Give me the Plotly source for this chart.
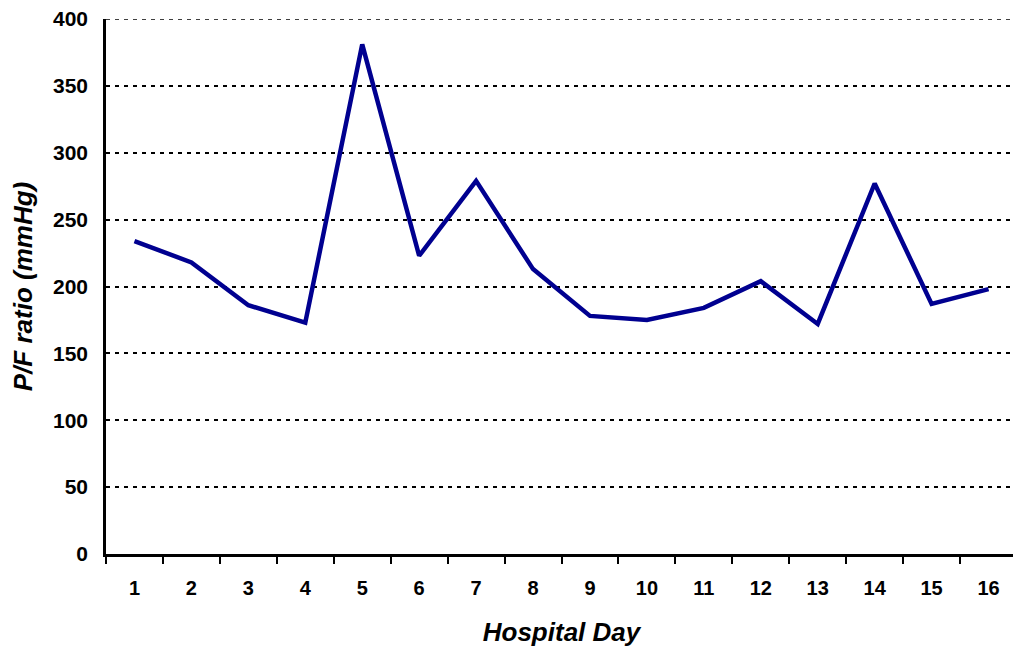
import plotly.graph_objects as go

days = [str(i) for i in range(1, 17)]
pf_ratio = [234, 218, 186, 173, 381, 223, 279, 213, 178, 175, 184, 204, 172, 277, 187, 198]
y_ticks = [0, 50, 100, 150, 200, 250, 300, 350, 400]

fig = go.Figure()
fig.add_trace(go.Scatter(
    x=days, y=pf_ratio, mode="lines",
    line=dict(color="#000090", width=4.5),
    showlegend=False,
))

font_fam = "Liberation Sans, Arial, sans-serif"
fig.update_layout(
    width=1013, height=643,
    margin=dict(l=98, r=4, t=11, b=97),
    paper_bgcolor="white", plot_bgcolor="white",
    font=dict(family=font_fam, color="black"),
)
# dashed top gridline at the maximum of the value axis
fig.add_shape(type="line", xref="paper", yref="y", x0=0, x1=1,
              y0=y_ticks[-1], y1=y_ticks[-1],
              line=dict(color="black", width=1.5, dash="4px,5px"), layer="below")
fig.update_xaxes(
    type="category", tickson="boundaries", range=[-0.5, 15.5],
    ticks="outside", ticklen=7, tickwidth=2, tickcolor="black",
    showline=True, linecolor="black", linewidth=2.5,
    showgrid=False, zeroline=False, automargin=False,
    ticklabelstandoff=14,
    tickfont=dict(size=20, weight="bold"),
    title=dict(text="Hospital Day", font=dict(size=26, weight="bold", style="italic"), standoff=26),
)
fig.update_yaxes(
    range=[0, 400], tickvals=y_ticks,
    showline=True, linecolor="black", linewidth=2.5,
    showgrid=True, gridcolor="black", gridwidth=1.5, griddash="4px,5px",
    zeroline=False, ticks="", automargin=False, ticklabeloverflow="allow",
    ticklabelstandoff=11,
    tickfont=dict(size=21, weight="bold"),
    title=dict(text="P/F ratio (mmHg)", font=dict(size=26, weight="bold", style="italic"), standoff=16),
)
fig.write_html("out.html")
